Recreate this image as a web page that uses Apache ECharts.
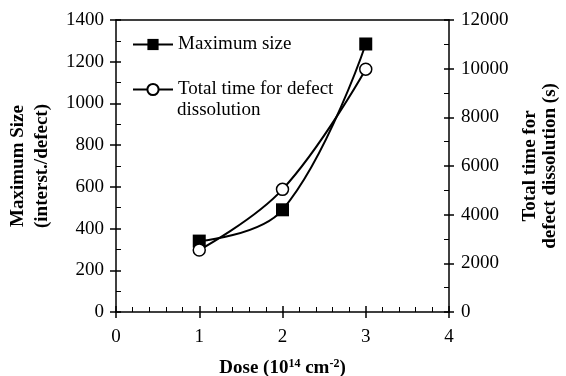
<!DOCTYPE html>
<html>
<head>
<meta charset="utf-8">
<script src="https://cdn.jsdelivr.net/npm/echarts@6/dist/echarts.min.js"></script>
<style>
html,body{margin:0;padding:0;background:#fff;}
#chart{width:566px;height:376px;}
</style>
</head>
<body>
<div id="chart"></div>
<script>
var doses = [1, 2, 3];
var maxSize = [340, 490, 1285];
var totalTime = [2550, 5040, 9980];
var xTicks = [0, 1, 2, 3, 4];
var leftTicks = [0, 200, 400, 600, 800, 1000, 1200, 1400];
var rightTicks = [0, 2000, 4000, 6000, 8000, 10000, 12000];
var legendNames = ['Maximum size', 'Total time for defect'];
var legendExtraLine = 'dissolution';

var FONT = '"Liberation Serif", "Times New Roman", serif';
var chart = echarts.init(document.getElementById('chart'));

function pairs(xs, ys){ return xs.map(function(x,i){ return [x, ys[i]]; }); }
function plain(v){ return String(v); }

var axisLineStyle = {show:true, onZero:false, lineStyle:{color:'#000', width:1.5}};
var noLine = {show:false, onZero:false};
var labelStyle = {color:'#000', fontFamily:FONT, fontSize:19, formatter:plain};
var TC = '#000';

chart.setOption({
  animation:false,
  backgroundColor:'#fff',
  grid:{left:116, right:117, top:20, bottom:64, containLabel:false, outerBoundsMode:'none'},
  legend:{
    data:legendNames,
    left:132, top:35, orient:'vertical', padding:0, itemGap:26,
    itemWidth:40, itemHeight:14,
    textStyle:{color:'#000', fontFamily:FONT, fontSize:19}
  },
  graphic:[{
    type:'text', left:177, top:101,
    style:{text:legendExtraLine, fill:'#000', font:'19px "Liberation Serif", "Times New Roman", serif'}
  }],
  xAxis:[{
    type:'value', position:'bottom', min:0, max:4, interval:1,
    name:'Dose (10{sup|14} cm{sup|-2})', nameLocation:'middle', nameGap:46,
    nameTextStyle:{color:'#000', fontFamily:FONT, fontSize:19, fontWeight:'bold',
      rich:{sup:{fontFamily:FONT, fontSize:12, fontWeight:'bold', verticalAlign:'top', padding:[0,0,9,0]}}},
    axisLine:axisLineStyle,
    axisTick:{show:true, inside:false, length:6, lineStyle:{color:'#000', width:1.5}},
    axisLabel:Object.assign({margin:16}, labelStyle),
    splitLine:{show:false}
  },{
    type:'value', position:'bottom', min:0, max:4, interval:1, offset:0,
    axisLine:noLine,
    axisTick:{show:true, inside:true, length:6, lineStyle:{color:TC, width:1.5}},
    minorTick:{show:true, splitNumber:5, length:5, lineStyle:{color:TC, width:1}},
    axisLabel:{show:false}, splitLine:{show:false}
  },{
    type:'value', position:'top', min:0, max:4, interval:1,
    axisLine:axisLineStyle, axisTick:{show:false}, axisLabel:{show:false}, splitLine:{show:false}
  }],
  yAxis:[{
    type:'value', position:'left', min:0, max:1400, interval:200,
    name:'Maximum Size\n(interst./defect)', nameLocation:'middle', nameGap:62, nameRotate:90,
    nameTextStyle:{color:'#000', fontFamily:FONT, fontSize:19, fontWeight:'bold', lineHeight:24},
    axisLine:axisLineStyle,
    axisTick:{show:true, inside:false, length:6, lineStyle:{color:'#000', width:1.5}},
    axisLabel:Object.assign({margin:12}, labelStyle),
    splitLine:{show:false}
  },{
    type:'value', position:'right', min:0, max:12000, interval:2000,
    name:'Total time for\ndefect dissolution (s)', nameLocation:'middle', nameGap:71, nameRotate:90,
    nameTextStyle:{color:'#000', fontFamily:FONT, fontSize:19, fontWeight:'bold', lineHeight:20},
    axisLine:axisLineStyle,
    axisTick:{show:true, inside:false, length:5, lineStyle:{color:'#000', width:1.5}},
    axisLabel:Object.assign({margin:12}, labelStyle),
    splitLine:{show:false}
  },{
    type:'value', position:'left', min:0, max:1400, interval:200, offset:0,
    axisLine:noLine,
    axisTick:{show:true, inside:true, length:5, lineStyle:{color:TC, width:1.5}},
    minorTick:{show:true, splitNumber:2, length:5, lineStyle:{color:TC, width:1}},
    axisLabel:{show:false}, splitLine:{show:false}
  },{
    type:'value', position:'right', min:0, max:12000, interval:2000, offset:0,
    axisLine:noLine,
    axisTick:{show:true, inside:true, length:5, lineStyle:{color:TC, width:1.5}},
    minorTick:{show:true, splitNumber:2, length:5, lineStyle:{color:TC, width:1}},
    axisLabel:{show:false}, splitLine:{show:false}
  }],
  series:[{
    name:legendNames[0], type:'line', xAxisIndex:0, yAxisIndex:0,
    data:pairs(doses, maxSize), smooth:0.4,
    symbol:'rect', symbolSize:13,
    lineStyle:{color:'#000', width:2},
    itemStyle:{color:'#000', borderColor:'#000', borderWidth:0}
  },{
    name:legendNames[1], type:'line', xAxisIndex:0, yAxisIndex:1,
    data:pairs(doses, totalTime), smooth:0.4,
    symbol:'circle', symbolSize:12,
    lineStyle:{color:'#000', width:2},
    itemStyle:{color:'#fff', borderColor:'#000', borderWidth:1.5}
  }]
});
</script>
</body>
</html>
